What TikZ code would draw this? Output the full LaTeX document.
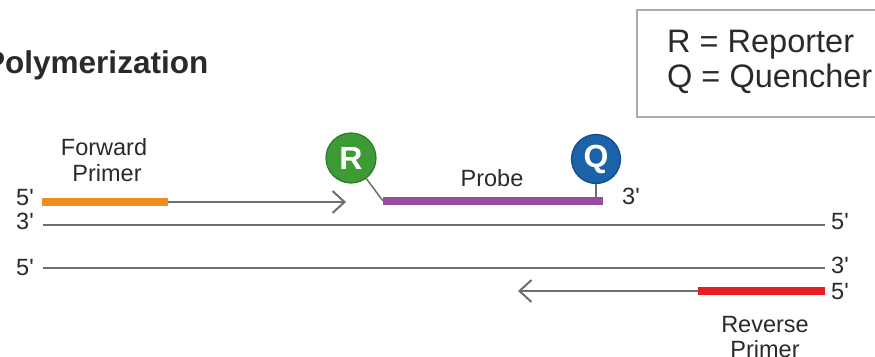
\documentclass[tikz,border=0pt]{standalone}
\usepackage{fontspec}
\setmainfont{Liberation Sans}
\usetikzlibrary{arrows.meta}
\definecolor{strandgray}{HTML}{6E6E6E}
\definecolor{txtgray}{HTML}{2A2A2A}
\definecolor{primorange}{HTML}{F28C1E}
\definecolor{probepurple}{HTML}{9A4C9C}
\definecolor{primred}{HTML}{E31E24}
\definecolor{repgreen}{HTML}{3D9B35}
\definecolor{repgreendk}{HTML}{2A7A2A}
\definecolor{qblue}{HTML}{1B62A8}
\definecolor{qbluedk}{HTML}{0F4C8A}
\definecolor{boxgray}{HTML}{AAAAAA}
\newcommand{\pr}{\textquotesingle}
\tikzset{
  strand/.style={draw=strandgray, line width=2pt},
  extend/.style={draw=strandgray, line width=2pt, -{Straight Barb[length=12pt,width=22pt,line width=2pt]}},
  bar/.style={line width=7.5pt},
  lbl/.style={text=txtgray, font=\fontsize{23.5}{26}\selectfont, inner sep=0pt, anchor=base},
  endlbl/.style={lbl, anchor=base west},
  dye/.style={circle, minimum size=50pt, inner sep=0pt, line width=1.2pt, text=white, font=\fontsize{32}{32}\selectfont\bfseries},
  legendtxt/.style={text=txtgray, font=\fontsize{32.5}{35}\selectfont, inner sep=0pt, anchor=base west},
}
\begin{document}
\begin{tikzpicture}[x=1pt, y=-1pt]
\useasboundingbox (0,0) rectangle (875,356);
% title
\node[text=txtgray, font=\fontsize{31.5}{34}\selectfont\bfseries, inner sep=0pt, anchor=base west] (title) at (-16,73) {Polymerization};
% legend
\draw[boxgray, line width=1.6pt] (890,10) -- (637,10) -- (637,117) -- (890,117);
\node[legendtxt] (legR) at (667,52) {R = Reporter};
\node[legendtxt] (legQ) at (667,87) {Q = Quencher};
% coordinates
\coordinate (fp1) at (42,202);
\coordinate (fp2) at (168,202);
\coordinate (fpt) at (346,202);
\coordinate (pb1) at (383,201);
\coordinate (pb2) at (603,201);
\coordinate (t1) at (43,225);
\coordinate (t2) at (825,225);
\coordinate (b1) at (43,268);
\coordinate (b2) at (825,268);
\coordinate (rp1) at (825,291);
\coordinate (rp2) at (698,291);
\coordinate (rpt) at (518,291);
% strands
\draw[strand] (t1) -- (t2);
\draw[strand] (b1) -- (b2);
% forward primer + extension
\draw[extend] (fp2) -- (fpt);
\draw[bar, primorange] (fp1) -- (fp2);
% reverse primer + extension
\draw[extend] (rp2) -- (rpt);
\draw[bar, primred] (rp2) -- (rp1);
% probe
\node[dye, fill=repgreen, draw=repgreendk] (R) at (351,158) {R};
\node[dye, fill=qblue, draw=qbluedk, minimum size=49pt] (Q) at (596,159) {Q};
\draw[strandgray, line width=1.5pt] (R) -- (pb1);
\draw[strandgray, line width=1.5pt] (Q.south) -- (Q.south |- pb2);
\draw[bar, probepurple] (pb1) -- (pb2);
% labels
\node[lbl] (fwd1) at (104,155) {Forward};
\node[lbl] (fwd2) at (107,181) {Primer};
\node[lbl] (probe) at (492,186) {Probe};
\node[lbl] (rev1) at (765,332) {Reverse};
\node[lbl] (rev2) at (765,357) {Primer};
\node[endlbl] (l5a) at (16,205) {5\pr};
\node[endlbl] (l3a) at (16,229) {3\pr};
\node[endlbl] (l5b) at (16,275) {5\pr};
\node[endlbl] (p3) at (622,204) {3\pr};
\node[endlbl] (r5a) at (831,229) {5\pr};
\node[endlbl] (r3b) at (831,273) {3\pr};
\node[endlbl] (r5c) at (831,299) {5\pr};
\end{tikzpicture}
\end{document}
